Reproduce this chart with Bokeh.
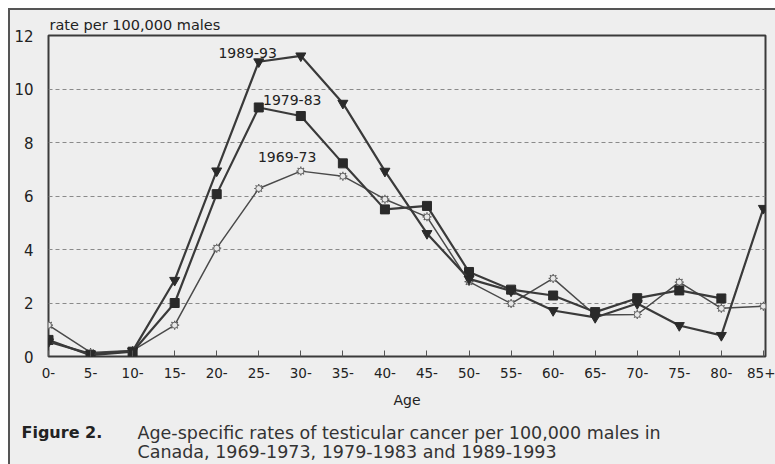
from bokeh.plotting import figure
from bokeh.models import Range1d, FixedTicker, Label, Title
from bokeh.layouts import column
from bokeh.embed import file_html
from bokeh.resources import INLINE

ages = ["0-", "5-", "10-", "15-", "20-", "25-", "30-", "35-", "40-", "45-",
        "50-", "55-", "60-", "65-", "70-", "75-", "80-", "85+"]
rate_1969_73 = [1.17, 0.15, 0.22, 1.17, 4.05, 6.28, 6.93, 6.74, 5.88, 5.22,
                2.80, 1.98, 2.92, 1.55, 1.57, 2.78, 1.80, 1.88]
rate_1979_83 = [0.62, 0.05, 0.18, 2.00, 6.07, 9.31, 8.99, 7.22, 5.50, 5.63,
                3.16, 2.50, 2.28, 1.66, 2.18, 2.47, 2.17]
rate_1989_93 = [0.55, 0.10, 0.20, 2.85, 6.94, 11.02, 11.24, 9.47, 6.93, 4.60,
                2.90, 2.45, 1.72, 1.46, 1.98, 1.16, 0.79, 5.54]
y_ticks = [0, 2, 4, 6, 8, 10, 12]

BG = "#eeeeee"
DARK = "#3a3a3a"
FONT = "DejaVu Sans"

p = figure(width=765, height=404, x_range=Range1d(0, 17.05), y_range=Range1d(0, 12),
           output_backend="svg", toolbar_location=None,
           min_border_left=38, min_border_right=10, min_border_top=25, min_border_bottom=58)
p.background_fill_color = BG
p.border_fill_color = BG
p.outline_line_color = DARK
p.outline_line_width = 2

p.xgrid.grid_line_color = None
p.ygrid.grid_line_color = "#8a8a8a"
p.ygrid.grid_line_dash = "4 3"
p.ygrid.grid_line_width = 1

idx = list(range(len(ages)))
p.xaxis.ticker = FixedTicker(ticks=idx)
p.xaxis.major_label_overrides = {i: a for i, a in enumerate(ages)}
p.xaxis.major_tick_in = 6
p.xaxis.major_tick_out = 0
p.xaxis.major_tick_line_color = "#555"
p.xaxis.minor_tick_line_color = None
p.xaxis.axis_line_color = None
p.xaxis.major_label_standoff = 11
p.xaxis.major_label_text_font = FONT
p.xaxis.major_label_text_font_size = "13.5px"
p.xaxis.major_label_text_color = "#222"
p.xaxis.axis_label = "Age"
p.xaxis.axis_label_text_font = FONT
p.xaxis.axis_label_text_font_style = "normal"
p.xaxis.axis_label_text_font_size = "14px"
p.xaxis.axis_label_text_color = "#222"
p.xaxis.axis_label_standoff = 11

p.yaxis.ticker = FixedTicker(ticks=y_ticks)
p.yaxis.major_tick_in = 0
p.yaxis.major_tick_out = 0
p.yaxis.minor_tick_line_color = None
p.yaxis.axis_line_color = None
p.yaxis.major_label_standoff = 15
p.yaxis.major_label_text_font = FONT
p.yaxis.major_label_text_font_size = "15px"
p.yaxis.major_label_text_color = "#222"

p.add_layout(Title(text="rate per 100,000 males", align="left", offset=1, standoff=5,
                   text_font=FONT, text_font_size="14.5px", text_font_style="normal",
                   text_color="#222"), "above")

x69 = idx[:len(rate_1969_73)]
x79 = idx[:len(rate_1979_83)]
x89 = idx[:len(rate_1989_93)]

p.line(x69, rate_1969_73, line_color="#4a4a4a", line_width=1.5)
p.scatter(x69, rate_1969_73, marker="asterisk", size=9, line_color="#555", line_width=1.2)
p.scatter(x69, rate_1969_73, marker="circle", size=6, fill_color="#e8e8e8", line_color="#666", line_width=1)

p.line(x79, rate_1979_83, line_color=DARK, line_width=2.2)
p.scatter(x79, rate_1979_83, marker="square", size=9, fill_color="#2a2a2a", line_color="#2a2a2a")

p.line(x89, rate_1989_93, line_color=DARK, line_width=2.2)
p.scatter(x89, rate_1989_93, marker="inverted_triangle", size=10, fill_color="#2a2a2a", line_color="#2a2a2a")

for txt, lx, ly in [("1989-93", 4.04, 11.36), ("1979-83", 5.1, 9.6), ("1969-73", 4.98, 7.44)]:
    p.add_layout(Label(x=lx, y=ly, text=txt, text_font=FONT, text_font_size="14px",
                       text_color="#222", text_baseline="middle", text_align="left"))

# caption strip (its frame fills the whole strip; labels use screen units)
cap = figure(width=765, height=50, x_range=Range1d(0, 765), y_range=Range1d(0, 50),
             output_backend="svg", toolbar_location=None,
             x_axis_type=None, y_axis_type=None, min_border=0)
if "frame_align" in cap.properties():
    cap.frame_align = False
    p.frame_align = False
cap.background_fill_color = BG
cap.border_fill_color = BG
cap.outline_line_color = None
cap.xgrid.grid_line_color = None
cap.ygrid.grid_line_color = None
cap.add_layout(Label(x=11, y=32, x_units="screen", y_units="screen",
                     text="Figure 2.", text_font=FONT, text_font_style="bold",
                     text_font_size="16px", text_color="#222", text_baseline="middle"))
cap.add_layout(Label(x=127, y=32, x_units="screen", y_units="screen",
                     text="Age-specific rates of testicular cancer per 100,000 males in",
                     text_font=FONT, text_font_size="17.5px", text_color="#333",
                     text_baseline="middle"))
cap.add_layout(Label(x=127, y=13, x_units="screen", y_units="screen",
                     text="Canada, 1969-1973, 1979-1983 and 1989-1993",
                     text_font=FONT, text_font_size="17.5px", text_color="#333",
                     text_baseline="middle"))

layout = column(p, cap, spacing=0,
                styles={"margin-left": "8px", "margin-top": "8px",
                        "border-left": "2px solid #555", "border-top": "2px solid #555",
                        "background-color": BG})

open("out.html", "w").write(file_html(layout, INLINE))
